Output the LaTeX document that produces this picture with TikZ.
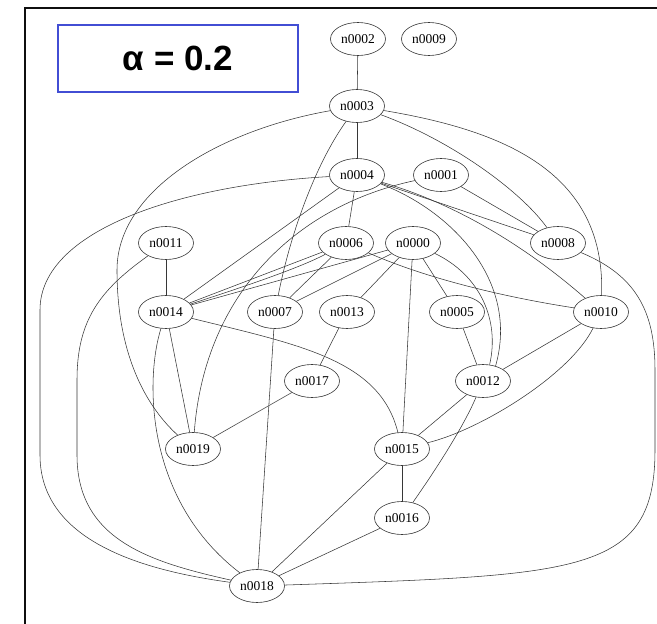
\documentclass[tikz,border=0pt]{standalone}
\usepackage{fontspec}
\setmainfont{Liberation Serif}
\newfontfamily\titlefont{Liberation Sans}
\usepackage{tikz}
\usetikzlibrary{
shapes.geometric,
calc
}
\definecolor{framegray}{RGB}{15,15,15}
\definecolor{alphablue}{RGB}{66,78,212}
\definecolor{edgegray}{RGB}{55,55,55}

\begin{document}
\begin{tikzpicture}[x=1pt, y=-1pt,
  vertex/.style={draw=edgegray, ellipse, line width=0.6pt,
    minimum width=55pt, minimum height=33pt, inner sep=0pt,
    font=\fontsize{13.5}{15}\selectfont},
  link/.style={draw=edgegray, line width=0.55pt}]

%% Canvas and frame
\useasboundingbox (0,0) rectangle (657,624);
\draw[line width=1.8pt, framegray] (25,630) -- (25,8) -- (662,8);

%% Title box
\node[draw=alphablue, line width=2.2pt, minimum width=240pt, minimum height=67pt,
  font=\titlefont\bfseries\fontsize{35}{38}\selectfont] (title) at (178,58.5)
  {α = 0.2};

%% Vertices (row by row)
\node[vertex] (n0002) at (358,39)  {n0002};
\node[vertex] (n0009) at (429,39)  {n0009};
\node[vertex] (n0003) at (357,106) {n0003};
\node[vertex] (n0004) at (357,175) {n0004};
\node[vertex] (n0001) at (441,175) {n0001};
\node[vertex] (n0011) at (166,243) {n0011};
\node[vertex] (n0006) at (346,243) {n0006};
\node[vertex] (n0000) at (413,243) {n0000};
\node[vertex] (n0008) at (558,243) {n0008};
\node[vertex] (n0014) at (166,312) {n0014};
\node[vertex] (n0007) at (275,312) {n0007};
\node[vertex] (n0013) at (347,312) {n0013};
\node[vertex] (n0005) at (457,312) {n0005};
\node[vertex] (n0010) at (601,312) {n0010};
\node[vertex] (n0017) at (312,381) {n0017};
\node[vertex] (n0012) at (483,381) {n0012};
\node[vertex] (n0019) at (193,449) {n0019};
\node[vertex] (n0015) at (402,449) {n0015};
\node[vertex] (n0016) at (402,518) {n0016};
\node[vertex] (n0018) at (257,586) {n0018};

%% Straight edges
\foreach \a/\b in {0002/0003, 0003/0004, 0004/0006, 0004/0014, 0004/0008,
                   0001/0008, 0006/0014, 0006/0007, 0000/0014, 0000/0007,
                   0000/0013, 0000/0015, 0000/0005, 0011/0014, 0014/0019,
                   0007/0018, 0013/0017, 0017/0019, 0005/0012, 0010/0012,
                   0012/0015, 0015/0016, 0015/0018, 0016/0018}{
  \draw[link] (n\a) -- (n\b);
}

%% Curved edges, inner part
\draw[link] (n0006) .. controls (300,268) and (240,288) .. (n0014);
\draw[link] (n0006) .. controls (430,280) and (510,298) .. (n0010);
\draw[link] (n0003) .. controls (315,165) and (290,235) .. (n0007);
\draw[link] (n0003) .. controls (450,140) and (520,190) .. (n0008);
\draw[link] (n0003) .. controls (500,130) and (606,170) .. (n0010);
\draw[link] (n0004) .. controls (460,205) and (530,250) .. (n0010);
\draw[link] (n0004) .. controls (450,210) and (520,280) .. (n0012.50);
\draw[link] (n0000) .. controls (480,275) and (500,320) .. (n0012.68);
\draw[link] (n0001) .. controls (300,205) and (205,290) .. (n0019);
\draw[link] (n0014) .. controls (300,345) and (380,360) .. (n0015);
\draw[link] (n0014) .. controls (145,380) and (145,500) .. (n0018);
\draw[link] (n0010) .. controls (570,375) and (480,430) .. (n0015);
\draw[link] (n0012) .. controls (462,430) and (432,475) .. (n0016);

%% Long edges round the outside
\draw[link] (n0003) .. controls (220,130) and (117,190) .. (117,270)
  .. controls (117,360) and (150,410) .. (n0019);
\draw[link] (n0004) .. controls (180,185) and (40,230) .. (40,310) -- (40,455)
  .. controls (40,540) and (140,570) .. (n0018);
\draw[link] (n0011) .. controls (100,290) and (77,320) .. (77,380) -- (77,455)
  .. controls (77,540) and (150,562) .. (n0018);
\draw[link] (n0008) .. controls (635,275) and (655,310) .. (655,370) -- (655,450)
  .. controls (655,575) and (580,575) .. (n0018);

\end{tikzpicture}
\end{document}
